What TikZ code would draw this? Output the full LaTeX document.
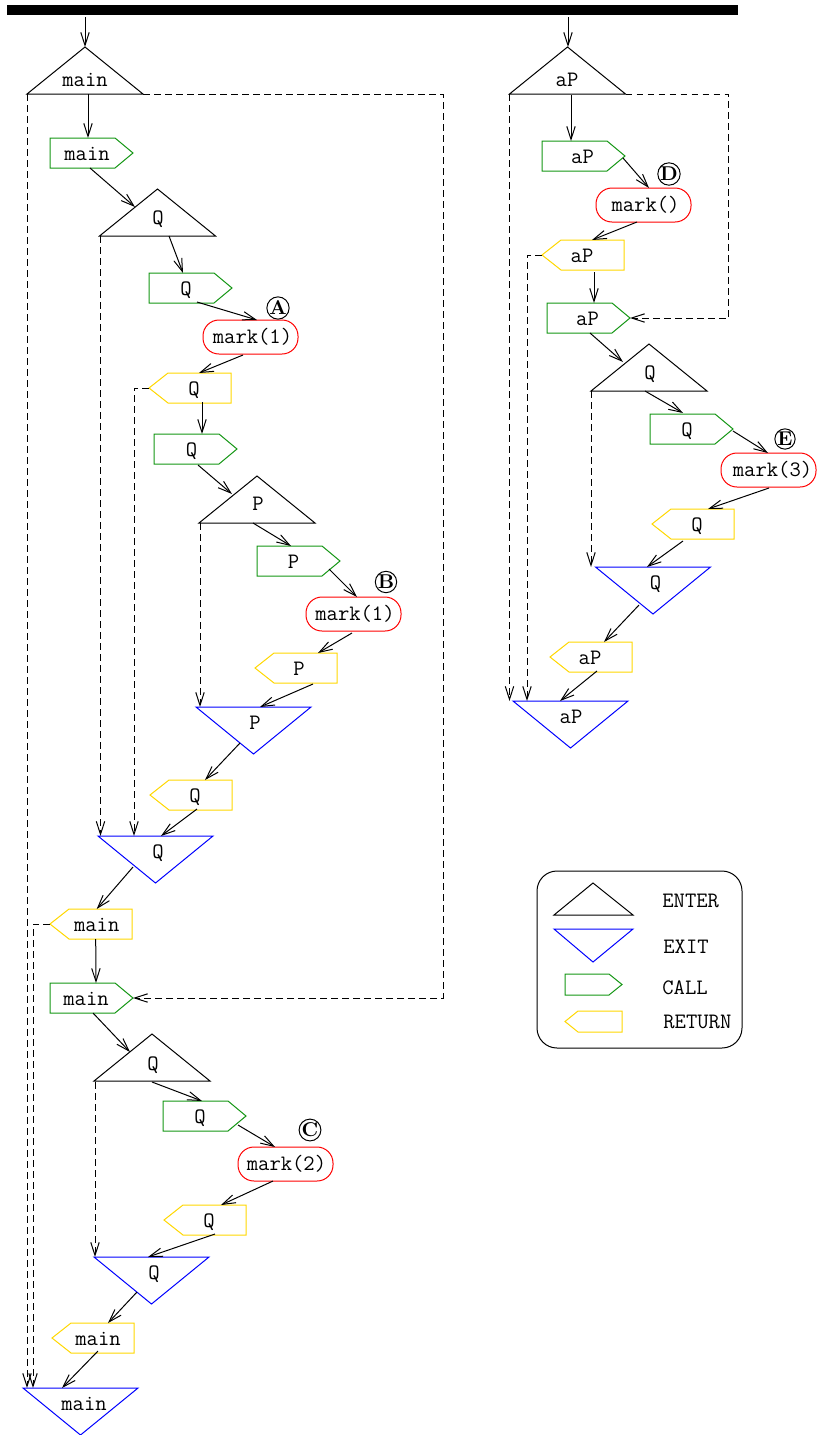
\documentclass[tikz,border=0pt]{standalone}
\usetikzlibrary{arrows.meta}
\definecolor{cgreen}{RGB}{20,150,20}
\definecolor{cyellow}{RGB}{255,215,0}
\definecolor{cblue}{RGB}{0,0,255}
\definecolor{cred}{RGB}{255,0,0}
\newcommand\lfont{\fontsize{11}{13}\selectfont\ttfamily}
\newcommand\cn[4]{\draw[arr] ([shift={(#2)}]#1.base) -- ([shift={(#4)}]#3.base);}
\tikzset{
 lw/.style={line width=0.5pt},
 arr/.style={lw,-{Straight Barb[length=6.5pt,width=4.2pt]}},
 dsh/.style={arr,dash pattern=on 3.3pt off 2.2pt},
 lbl/.style={font=\lfont, inner sep=0pt, anchor=base},
 enterN/.style={lbl, append after command={\pgfextra{\draw[lw,black] ([shift={(#1)}]\tikzlastnode.base) -- ++(58,47) -- ++(-116,0) -- cycle;}}},
 exitN/.style={lbl, append after command={\pgfextra{\draw[lw,cblue] ([shift={(#1)}]\tikzlastnode.base) ++(-57.5,0) -- ++(115,0) -- ++(-57.5,47) -- cycle;}}},
 callN/.style={lbl, append after command={\pgfextra{\draw[lw,cgreen] ([shift={(#1)}]\tikzlastnode.base) -- ++(65,0) -- ++(18,15) -- ++(-18,15) -- ++(-65,0) -- cycle;}}},
 retN/.style={lbl, append after command={\pgfextra{\draw[lw,cyellow] ([shift={(#1)}]\tikzlastnode.base) ++(0,15) -- ++(19,-15) -- ++(63,0) -- ++(0,30) -- ++(-63,0) -- cycle;}}},
 markN/.style={lbl, append after command={\pgfextra{\draw[lw,cred,rounded corners=8] ([shift={(#1)}]\tikzlastnode.base) rectangle ++(95,34);}}},
 circ/.style={circle, draw, lw, inner sep=0pt, minimum size=10pt, font=\fontsize{10}{11}\selectfont\bfseries},
 leg/.style={font=\lfont, inner sep=0pt, anchor=base west},
}
\begin{document}
\begin{tikzpicture}[x=0.5pt,y=-0.5pt]
\useasboundingbox (0,0) rectangle (817,1435);
\fill (7,5) rectangle (738,15);

% ---------- left column ----------
\node[enterN={0,-39}] (E1) at (85,86) {main};
\node[callN={-37,-22}] (C1) at (87,160) {main};
\node[enterN={-0.5,-35}] (E2) at (158,224) {Q};
\node[callN={-37,-22}] (C2) at (186,295) {Q};
\node[markN={-49.5,-23}] (M1) at (252.5,343) {mark(1)};
\node[retN={-45,-22}] (R1) at (194,395) {Q};
\node[callN={-37.5,-22}] (C3) at (191.5,456) {Q};
\node[enterN={-1,-34}] (E3) at (258,510) {P};
\node[callN={-36.5,-22}] (C4) at (293.5,568) {P};
\node[markN={-49,-23}] (M2) at (355,620) {mark(1)};
\node[retN={-44,-22}] (R2) at (299,675) {P};
\node[exitN={-1.5,-22}] (X1) at (255,729) {P};
\node[retN={-45,-22}] (R3) at (195,802) {Q};
\node[exitN={-2.5,-22}] (X2) at (158,858) {Q};
\node[retN={-46.7,-22}] (R4) at (96.7,931) {main};
\node[callN={-36,-22}] (C5) at (86,1005) {main};
\node[enterN={-1,-36}] (E4) at (153,1070) {Q};
\node[callN={-37,-22}] (C6) at (200,1123) {Q};
\node[markN={-48.5,-23}] (M3) at (286.5,1170) {mark(2)};
\node[retN={-45,-22}] (R5) at (209,1227) {Q};
\node[exitN={-2.5,-22}] (X3) at (154,1279) {Q};
\node[retN={-46,-22}] (R6) at (98,1345) {main};
\node[exitN={-3.5,-22}] (X4) at (84,1410) {main};

% ---------- right column ----------
\node[enterN={0.5,-39}] (E5) at (567,86) {aP};
\node[callN={-40.5,-22}] (C7) at (582.5,163) {aP};
\node[markN={-49.5,-23}] (M4) at (645.5,211) {mark()};
\node[retN={-40,-22}] (R7) at (582,262) {aP};
\node[callN={-40.5,-22}] (C8) at (587.5,325) {aP};
\node[enterN={-1,-35}] (E6) at (650,379) {Q};
\node[callN={-37,-22}] (C9) at (687,436) {Q};
\node[markN={-51.5,-23}] (M5) at (772.5,476) {mark(3)};
\node[retN={-45,-22}] (R8) at (697,531) {Q};
\node[exitN={-2.5,-22}] (X5) at (655.5,589) {Q};
\node[retN={-40,-22}] (R9) at (590,664) {aP};
\node[exitN={-0.5,-22}] (X6) at (571,723) {aP};

% circled marks
\node[circ] (cA) at (278,308) {A};
\node[circ] (cB) at (386,582) {B};
\node[circ] (cC) at (310,1130) {C};
\node[circ] (cD) at (669,174) {D};
\node[circ] (cE) at (785,439) {E};

% entry arrows
\coordinate (inL) at (85,17);
\coordinate (inR) at (568,17);
\draw[arr] (inL) -- ([shift={(0,-39)}]E1.base);
\draw[arr] (inR) -- ([shift={(1,-39)}]E5.base);

% solid connectors, left
\cn{E1}{3,8}{C1}{1,-22}
\cn{C1}{3,8}{E2}{-23,-17}
\cn{E2}{11,12}{C2}{-3,-22}
\cn{C2}{11,7}{M1}{4.5,-23}
\cn{M1}{-9.5,12}{R1}{5,-22}
\cn{R1}{8,7}{C3}{10.5,-22}
\cn{C3}{6.5,9}{E3}{-26,-16}
\cn{E3}{-5,13}{C4}{-2.5,-22}
\cn{C4}{35.5,1}{M2}{2,-23}
\cn{M2}{-3,13}{R2}{19,-22}
\cn{R2}{14,9}{X1}{5,-22}
\cn{X1}{-15,14}{R3}{10,-22}
\cn{R3}{2,7}{X2}{3,-22}
\cn{X2}{-25,9}{R4}{0,-22}
\cn{R4}{-1,8}{C5}{10,-22}
\cn{C5}{7,8}{E4}{-23,-18}
\cn{E4}{-1,12}{C6}{2,-22}
\cn{C6}{38,2}{M3}{-11.5,-23}
\cn{M3}{-13.5,11}{R5}{12,-22}
\cn{R5}{6,7}{X3}{-6,-22}
\cn{X3}{-17,13}{R6}{10,-22}
\cn{R6}{0,6}{X4}{-22,-22}

% solid connectors, right
\cn{E5}{4,9}{C7}{-11.5,-22}
\cn{C7}{40.5,-5}{M4}{3.5,-23}
\cn{M4}{-8.5,11}{R7}{10,-22}
\cn{R7}{12,10}{C8}{6.5,-22}
\cn{C8}{2.5,8}{E6}{-27,-17}
\cn{E6}{-5,12}{C9}{-4,-23}
\cn{C9}{46,-5}{M5}{-4.5,-23}
\cn{M5}{-3.5,12}{R8}{11,-22}
\cn{R8}{-14,10}{X5}{-8.5,-22}
\cn{X5}{-16.5,16}{R9}{14,-22}
\cn{R9}{7,7}{X6}{-11,-22}

% dashed connectors
\draw[dsh] ([shift={(-58,8)}]E1.base) -- ([shift={(-57,-22)}]X4.base);
\draw[dsh] ([shift={(58,8)}]E1.base) -- ++(300,0) |- ([shift={(47,-7)}]C5.base);
\draw[dsh] ([shift={(-46.7,-7)}]R4.base) -| ([shift={(-51,-22)}]X4.base);
\draw[dsh] ([shift={(-57.5,12)}]E2.base) -- ([shift={(-57.5,-22)}]X2.base);
\draw[dsh] ([shift={(-45,-7)}]R1.base) -| ([shift={(-24,-22)}]X2.base);
\draw[dsh] ([shift={(-58,13)}]E3.base) -- ([shift={(-55,-22)}]X1.base);
\draw[dsh] ([shift={(-58,12)}]E4.base) -- ([shift={(-59,-22)}]X3.base);
\draw[dsh] ([shift={(58.5,8)}]E5.base) -- ++(103,0) |- ([shift={(42.5,-7)}]C8.base);
\draw[dsh] ([shift={(-57.5,8)}]E5.base) -- ([shift={(-61.5,-22)}]X6.base);
\draw[dsh] ([shift={(-40,-7)}]R7.base) -| ([shift={(-44,-22)}]X6.base);
\draw[dsh] ([shift={(-59,12)}]E6.base) -- ([shift={(-64.5,-22)}]X5.base);

% ---------- legend ----------
\draw[lw,rounded corners=10] (537,871) rectangle (742,1048);
\draw[lw,black] (593,883) -- (633,915) -- (554,915) -- cycle;
\draw[lw,cblue] (554,929) -- (633,929) -- (593,962) -- cycle;
\draw[lw,cgreen] (565,974) -- (609,974) -- (622,984.5) -- (609,995) -- (565,995) -- cycle;
\draw[lw,cyellow] (565,1021.5) -- (578,1011) -- (622,1011) -- (622,1032) -- (578,1032) -- cycle;
\node[leg] (lgE) at (662,907) {ENTER};
\node[leg] (lgX) at (663,953) {EXIT};
\node[leg] (lgC) at (662,994) {CALL};
\node[leg] (lgR) at (663,1028) {RETURN};
\end{tikzpicture}
\end{document}
